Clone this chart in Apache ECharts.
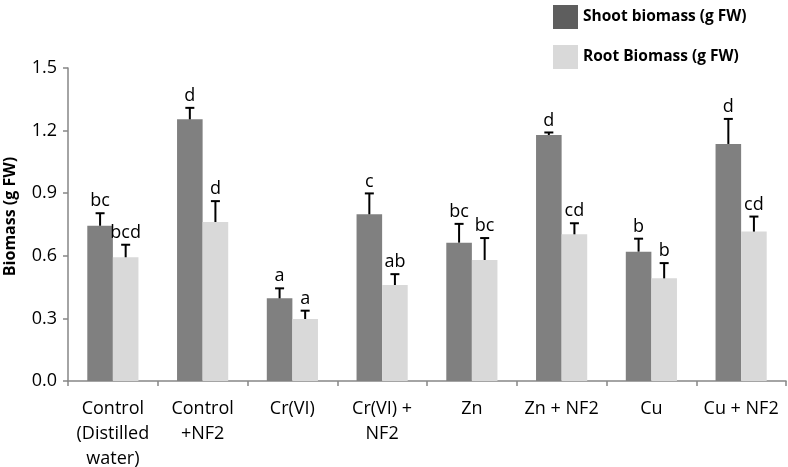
<!DOCTYPE html>
<html>
<head>
<meta charset="utf-8">
<script src="https://cdn.jsdelivr.net/npm/echarts@6/dist/echarts.min.js"></script>
<style>
html,body{margin:0;padding:0;background:#fff;}
#chart{width:788px;height:467px;}
</style>
</head>
<body>
<div id="chart"></div>
<script>
var categories = ['Control\n(Distilled\nwater)', 'Control\n+NF2', 'Cr(VI)', 'Cr(VI) +\nNF2', 'Zn', 'Zn + NF2', 'Cu', 'Cu + NF2'];
var shootValues = [0.744, 1.254, 0.396, 0.799, 0.663, 1.179, 0.620, 1.136];
var shootErrors = [0.060, 0.055, 0.048, 0.100, 0.090, 0.012, 0.062, 0.120];
var rootValues = [0.593, 0.762, 0.297, 0.460, 0.580, 0.703, 0.492, 0.716];
var rootErrors = [0.060, 0.100, 0.040, 0.052, 0.105, 0.053, 0.073, 0.072];
var shootLetters = ['bc', 'd', 'a', 'c', 'bc', 'd', 'b', 'd'];
var rootLetters = ['bcd', 'd', 'a', 'ab', 'bc', 'cd', 'b', 'cd'];
var yTicks = [0.0, 0.3, 0.6, 0.9, 1.2, 1.5];

var FONT = '"Open Sans", "DejaVu Sans", sans-serif';
var BAR_FRAC = 0.285;

function errorSeries(values, errors, letters, side) {
  var data = values.map(function (v, i) { return [i, v, errors[i]]; });
  return {
    type: 'custom',
    z: 5,
    silent: true,
    data: data,
    encode: { x: 0, y: 1 },
    renderItem: function (params, api) {
      var idx = api.value(0);
      var v = api.value(1);
      var e = api.value(2);
      var bw = api.size([1, 0])[0];
      var barW = bw * BAR_FRAC;
      var base = api.coord([idx, v]);
      var top = api.coord([idx, v + e]);
      var x = base[0] + side * barW / 2;
      var cap = 4.5;
      return {
        type: 'group',
        children: [
          { type: 'line', shape: { x1: x, y1: base[1], x2: x, y2: top[1] },
            style: { stroke: '#000', lineWidth: 2 } },
          { type: 'line', shape: { x1: x - cap, y1: top[1], x2: x + cap, y2: top[1] },
            style: { stroke: '#000', lineWidth: 2 } },
          { type: 'text',
            style: { text: letters[params.dataIndex], x: x, y: top[1] - 3,
              align: 'center', verticalAlign: 'bottom',
              font: '18px ' + FONT, fill: '#000' } }
        ]
      };
    }
  };
}

var chart = echarts.init(document.getElementById('chart'), null, { renderer: 'canvas' });
chart.setOption({
  animation: false,
  backgroundColor: '#fff',
  textStyle: { fontFamily: FONT },
  legend: {
    orient: 'vertical',
    left: 548,
    top: 0,
    itemWidth: 25,
    itemHeight: 24,
    itemGap: 16,
    itemStyle: { borderWidth: 0 },
    textStyle: { fontFamily: FONT, fontSize: 15.5, fontWeight: 'bold', color: '#000', padding: [8, 0, 0, 0] },
    data: [
      { name: 'Shoot biomass (g FW)', icon: 'rect', itemStyle: { color: '#5e5e5e' } },
      { name: 'Root Biomass (g FW)', icon: 'rect', itemStyle: { color: '#d9d9d9' } }
    ]
  },
  grid: { left: 68, right: 2, top: 68, bottom: 86, outerBoundsMode: 'none', containLabel: false },
  xAxis: {
    type: 'category',
    data: categories,
    axisLine: { lineStyle: { color: '#868686', width: 1.5 } },
    axisTick: { show: true, length: 5, lineStyle: { color: '#868686', width: 1.5 } },
    axisLabel: { color: '#000', fontSize: 18, fontFamily: FONT, lineHeight: 25, margin: 15, interval: 0 }
  },
  yAxis: {
    type: 'value',
    min: 0,
    max: 1.5,
    interval: 0.3,
    name: 'Biomass (g FW)',
    nameLocation: 'middle',
    nameGap: 50,
    nameRotate: 90,
    nameTextStyle: { color: '#000', fontSize: 16, fontWeight: 'bold', fontFamily: FONT, padding: [0, 0, 0, 16] },
    axisLine: { show: true, lineStyle: { color: '#868686', width: 1.5 } },
    axisTick: { show: true, length: 5, lineStyle: { color: '#868686', width: 1.5 } },
    splitLine: { show: false },
    axisLabel: {
      color: '#000', fontSize: 18, fontFamily: FONT, margin: 11,
      formatter: function (v) {
        for (var i = 0; i < yTicks.length; i++) {
          if (Math.abs(yTicks[i] - v) < 1e-9) return yTicks[i].toFixed(1);
        }
        return '';
      }
    }
  },
  series: [
    { name: 'Shoot biomass (g FW)', type: 'bar', data: shootValues, barWidth: (BAR_FRAC * 100) + '%', barGap: '0%',
      itemStyle: { color: '#808080' } },
    { name: 'Root Biomass (g FW)', type: 'bar', data: rootValues, barWidth: (BAR_FRAC * 100) + '%', barGap: '0%',
      itemStyle: { color: '#d9d9d9' } },
    errorSeries(shootValues, shootErrors, shootLetters, -1),
    errorSeries(rootValues, rootErrors, rootLetters, 1)
  ]
});
</script>
</body>
</html>
